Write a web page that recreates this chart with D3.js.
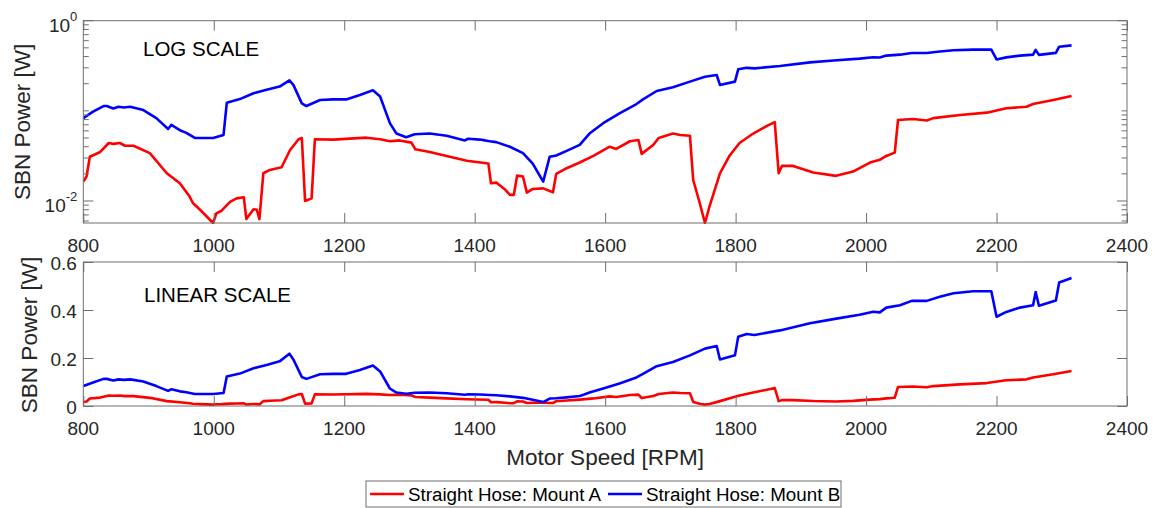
<!DOCTYPE html>
<html>
<head>
<meta charset="utf-8">
<script src="https://cdn.jsdelivr.net/npm/d3@7"></script>
<style>
  body { margin: 0; background: #fff; }
  svg { font-family: "Liberation Sans", Arial, sans-serif; }
</style>
</head>
<body>
<div id="chart"></div>
<script>
// Straight Hose: Mount A (red)
var rpmA = [800, 805, 810, 826, 839, 846, 856, 864, 877, 902, 928, 948, 963, 968, 979, 999, 1004, 1012, 1025, 1035,
  1046, 1050, 1061, 1066, 1070, 1076, 1086, 1104, 1117, 1130, 1135, 1140, 1150, 1155, 1183, 1234, 1255, 1270, 1285, 1303,
  1309, 1331, 1357, 1388, 1421, 1425, 1433, 1447, 1454, 1460, 1465, 1474, 1480, 1489, 1505, 1520, 1525, 1541, 1561, 1582,
  1607, 1617, 1638, 1651, 1656, 1674, 1682, 1704, 1715, 1730, 1735, 1745, 1753, 1760, 1776, 1791, 1806, 1827, 1848, 1860,
  1866, 1871, 1888, 1919, 1954, 1980, 2006, 2021, 2031, 2044, 2049, 2072, 2093, 2103, 2144, 2185, 2215, 2246, 2256, 2287, 2315];
var powerA = [0.0164, 0.0187, 0.031, 0.035, 0.044, 0.043, 0.044, 0.041, 0.041, 0.034, 0.0203, 0.0157, 0.0112, 0.0095, 0.0080, 0.0057, 0.0073, 0.0078, 0.0098, 0.0107,
  0.0110, 0.0063, 0.0081, 0.0080, 0.0063, 0.0203, 0.0221, 0.0237, 0.0368, 0.0484, 0.050, 0.010, 0.0107, 0.0484, 0.048, 0.0504, 0.0484, 0.046, 0.047, 0.0444,
  0.0375, 0.035, 0.0316, 0.028, 0.026, 0.0157, 0.016, 0.0133, 0.0117, 0.0117, 0.0191, 0.0187, 0.0124, 0.0136, 0.0138, 0.0125, 0.020, 0.0231, 0.0267, 0.0316,
  0.040, 0.0378, 0.046, 0.0475, 0.0333, 0.042, 0.050, 0.056, 0.054, 0.053, 0.0171, 0.0095, 0.0057, 0.0087, 0.0203, 0.032, 0.044, 0.056, 0.068, 0.075,
  0.0203, 0.0245, 0.0245, 0.0207, 0.019, 0.0212, 0.0267, 0.0286, 0.0316, 0.0344, 0.0793, 0.0813, 0.078, 0.083, 0.090, 0.0955, 0.107, 0.111, 0.119, 0.132, 0.146];

// Straight Hose: Mount B (blue)
var rpmB = [800, 815, 831, 836, 846, 854, 862, 872, 892, 912, 930, 935, 948, 958, 971, 999, 1015, 1020, 1040, 1061,
  1081, 1101, 1116, 1122, 1135, 1142, 1163, 1183, 1203, 1224, 1244, 1255, 1270, 1280, 1295, 1308, 1331, 1357, 1385, 1390,
  1408, 1416, 1423, 1433, 1454, 1474, 1489, 1505, 1515, 1525, 1541, 1561, 1568, 1576, 1597, 1622, 1648, 1658, 1679, 1704,
  1730, 1753, 1771, 1776, 1799, 1804, 1817, 1829, 1868, 1914, 1950, 1990, 2011, 2021, 2031, 2052, 2070, 2093, 2113, 2134,
  2164, 2192, 2200, 2215, 2236, 2256, 2260, 2265, 2291, 2296, 2315];
var powerB = [0.083, 0.098, 0.113, 0.113, 0.106, 0.111, 0.109, 0.111, 0.102, 0.083, 0.063, 0.070, 0.061, 0.057, 0.050, 0.050, 0.054, 0.123, 0.135, 0.157,
  0.171, 0.186, 0.218, 0.194, 0.121, 0.113, 0.132, 0.134, 0.134, 0.150, 0.169, 0.144, 0.073, 0.056, 0.051, 0.055, 0.056, 0.053, 0.047, 0.049,
  0.048, 0.047, 0.046, 0.045, 0.040, 0.034, 0.026, 0.0164, 0.031, 0.032, 0.036, 0.042, 0.048, 0.056, 0.073, 0.094, 0.119, 0.134, 0.166, 0.183,
  0.211, 0.239, 0.250, 0.194, 0.211, 0.289, 0.300, 0.296, 0.315, 0.345, 0.362, 0.380, 0.393, 0.390, 0.410, 0.420, 0.438, 0.438, 0.455, 0.470,
  0.478, 0.478, 0.372, 0.392, 0.410, 0.420, 0.475, 0.418, 0.440, 0.515, 0.533];

var xTicks = [800, 1000, 1200, 1400, 1600, 1800, 2000, 2200, 2400];
var linTicks = [0, 0.2, 0.4, 0.6];
var logLabelTicks = [0.01, 1];
var seriesNames = ["Straight Hose: Mount A", "Straight Hose: Mount B"];
var seriesColors = ["#ff0000", "#0000ff"];

var W = 1160, H = 508;
var left = 83.3, right = 1127;
var topPanel = {y0: 20.7, y1: 223};
var botPanel = {y0: 262, y1: 406};
var axisColor = "#6e6e6e", textColor = "#262626";
var tickFont = 19;

var svg = d3.select("#chart").append("svg")
    .attr("width", W)
    .attr("height", H);

var x = d3.scaleLinear().domain([800, 2400]).range([left, right]);
var yLog = d3.scaleLog().domain([0.0057, 1]).range([topPanel.y1, topPanel.y0]);
var yLin = d3.scaleLinear().domain([0, 0.6]).range([botPanel.y1, botPanel.y0]);

var seriesA = rpmA.map(function (r, i) { return {rpm: r, p: powerA[i]}; });
var seriesB = rpmB.map(function (r, i) { return {rpm: r, p: powerB[i]}; });

function drawPanel(id, panel, y, labelBaseline) {
    var g = svg.append("g");

    // clip lines to the axes box
    svg.append("clipPath").attr("id", "clip-" + id)
        .append("rect")
        .attr("x", left).attr("y", panel.y0 - 1)
        .attr("width", right - left).attr("height", panel.y1 - panel.y0 + 2);

    var line = d3.line()
        .x(function (d) { return x(d.rpm); })
        .y(function (d) { return y(d.p); });

    [seriesA, seriesB].forEach(function (s, i) {
        g.append("path")
            .datum(s)
            .attr("clip-path", "url(#clip-" + id + ")")
            .attr("fill", "none")
            .attr("stroke", seriesColors[i])
            .attr("stroke-width", 2.6)
            .attr("stroke-linejoin", "round")
            .attr("d", line);
    });

    // x ticks, inward on bottom and top
    var xb = g.append("g").attr("transform", "translate(0," + panel.y1 + ")")
        .call(d3.axisBottom(x).tickValues(xTicks).tickSize(-10).tickFormat(""));
    var xt = g.append("g").attr("transform", "translate(0," + panel.y0 + ")")
        .call(d3.axisTop(x).tickValues(xTicks).tickSize(-10).tickFormat(""));
    [xb, xt].forEach(function (a) {
        a.select(".domain").remove();
        a.selectAll("line").attr("stroke", axisColor);
    });

    // x tick labels
    g.selectAll(".xlab")
        .data(xTicks)
        .enter().append("text")
        .attr("x", function (d) { return x(d); })
        .attr("y", labelBaseline)
        .attr("text-anchor", "middle")
        .attr("font-size", tickFont).attr("fill", textColor)
        .text(function (d) { return d; });

    // box
    g.append("rect")
        .attr("x", left).attr("y", panel.y0)
        .attr("width", right - left).attr("height", panel.y1 - panel.y0)
        .attr("fill", "none").attr("stroke", axisColor).attr("stroke-width", 1);

    return g;
}

// ---- top panel (log) ----
var gTop = drawPanel("log", topPanel, yLog, 251.5);

yLog.ticks().forEach(function (t) {
    var major = logLabelTicks.some(function (m) { return Math.abs(m - t) < 1e-9; });
    var len = major ? 10 : 5.5;
    gTop.append("line").attr("x1", left).attr("x2", left + len)
        .attr("y1", yLog(t)).attr("y2", yLog(t)).attr("stroke", axisColor);
    gTop.append("line").attr("x1", right).attr("x2", right - len)
        .attr("y1", yLog(t)).attr("y2", yLog(t)).attr("stroke", axisColor);
});

logLabelTicks.forEach(function (t) {
    var lbl = gTop.append("text")
        .attr("x", left - 6)
        .attr("y", yLog(t) + 11)
        .attr("text-anchor", "end")
        .attr("font-size", tickFont)
        .attr("fill", textColor);
    lbl.append("tspan").text("10");
    lbl.append("tspan").attr("dy", -10.5).attr("font-size", 13).text(Math.round(Math.log10(t)));
});

gTop.append("text")
    .attr("x", 143).attr("y", 56)
    .attr("font-size", 20.5).attr("fill", "#000")
    .text("LOG SCALE");

gTop.append("text")
    .attr("transform", "translate(30," + ((topPanel.y0 + topPanel.y1) / 2) + ") rotate(-90)")
    .attr("text-anchor", "middle")
    .attr("font-size", 22.5).attr("fill", textColor)
    .text("SBN Power [W]");

// ---- bottom panel (linear) ----
var gBot = drawPanel("lin", botPanel, yLin, 435);

var yl = gBot.append("g").attr("transform", "translate(" + left + ",0)")
    .call(d3.axisLeft(yLin).tickValues(linTicks).tickSize(-10).tickFormat(""));
var yr = gBot.append("g").attr("transform", "translate(" + right + ",0)")
    .call(d3.axisRight(yLin).tickValues(linTicks).tickSize(-10).tickFormat(""));
[yl, yr].forEach(function (a) {
    a.select(".domain").remove();
    a.selectAll("line").attr("stroke", axisColor);
});

gBot.selectAll(".ylab")
    .data(linTicks)
    .enter().append("text")
    .attr("x", left - 6.5)
    .attr("y", function (d) { return yLin(d) + 8; })
    .attr("text-anchor", "end")
    .attr("font-size", tickFont).attr("fill", textColor)
    .text(function (d) { return d === 0 ? "0" : d3.format(".1f")(d); });

gBot.append("text")
    .attr("x", 144).attr("y", 302)
    .attr("font-size", 20.5).attr("fill", "#000")
    .text("LINEAR SCALE");

gBot.append("text")
    .attr("transform", "translate(37," + ((botPanel.y0 + botPanel.y1) / 2 + 1) + ") rotate(-90)")
    .attr("text-anchor", "middle")
    .attr("font-size", 22.5).attr("fill", textColor)
    .text("SBN Power [W]");

svg.append("text")
    .attr("x", (left + right) / 2).attr("y", 465)
    .attr("text-anchor", "middle")
    .attr("font-size", 22.5).attr("fill", textColor)
    .text("Motor Speed [RPM]");

// ---- legend ----
var leg = svg.append("g");
leg.append("rect")
    .attr("x", 366).attr("y", 481).attr("width", 475).attr("height", 26)
    .attr("fill", "#fff").attr("stroke", axisColor).attr("stroke-width", 1);

var legX = [370, 608];
seriesNames.forEach(function (name, i) {
    leg.append("line")
        .attr("x1", legX[i]).attr("x2", legX[i] + 34)
        .attr("y1", 494).attr("y2", 494)
        .attr("stroke", seriesColors[i]).attr("stroke-width", 2.6);
    leg.append("text")
        .attr("x", legX[i] + 38).attr("y", 500.5)
        .attr("font-size", 18.8).attr("fill", "#000")
        .text(name);
});
</script>
</body>
</html>
